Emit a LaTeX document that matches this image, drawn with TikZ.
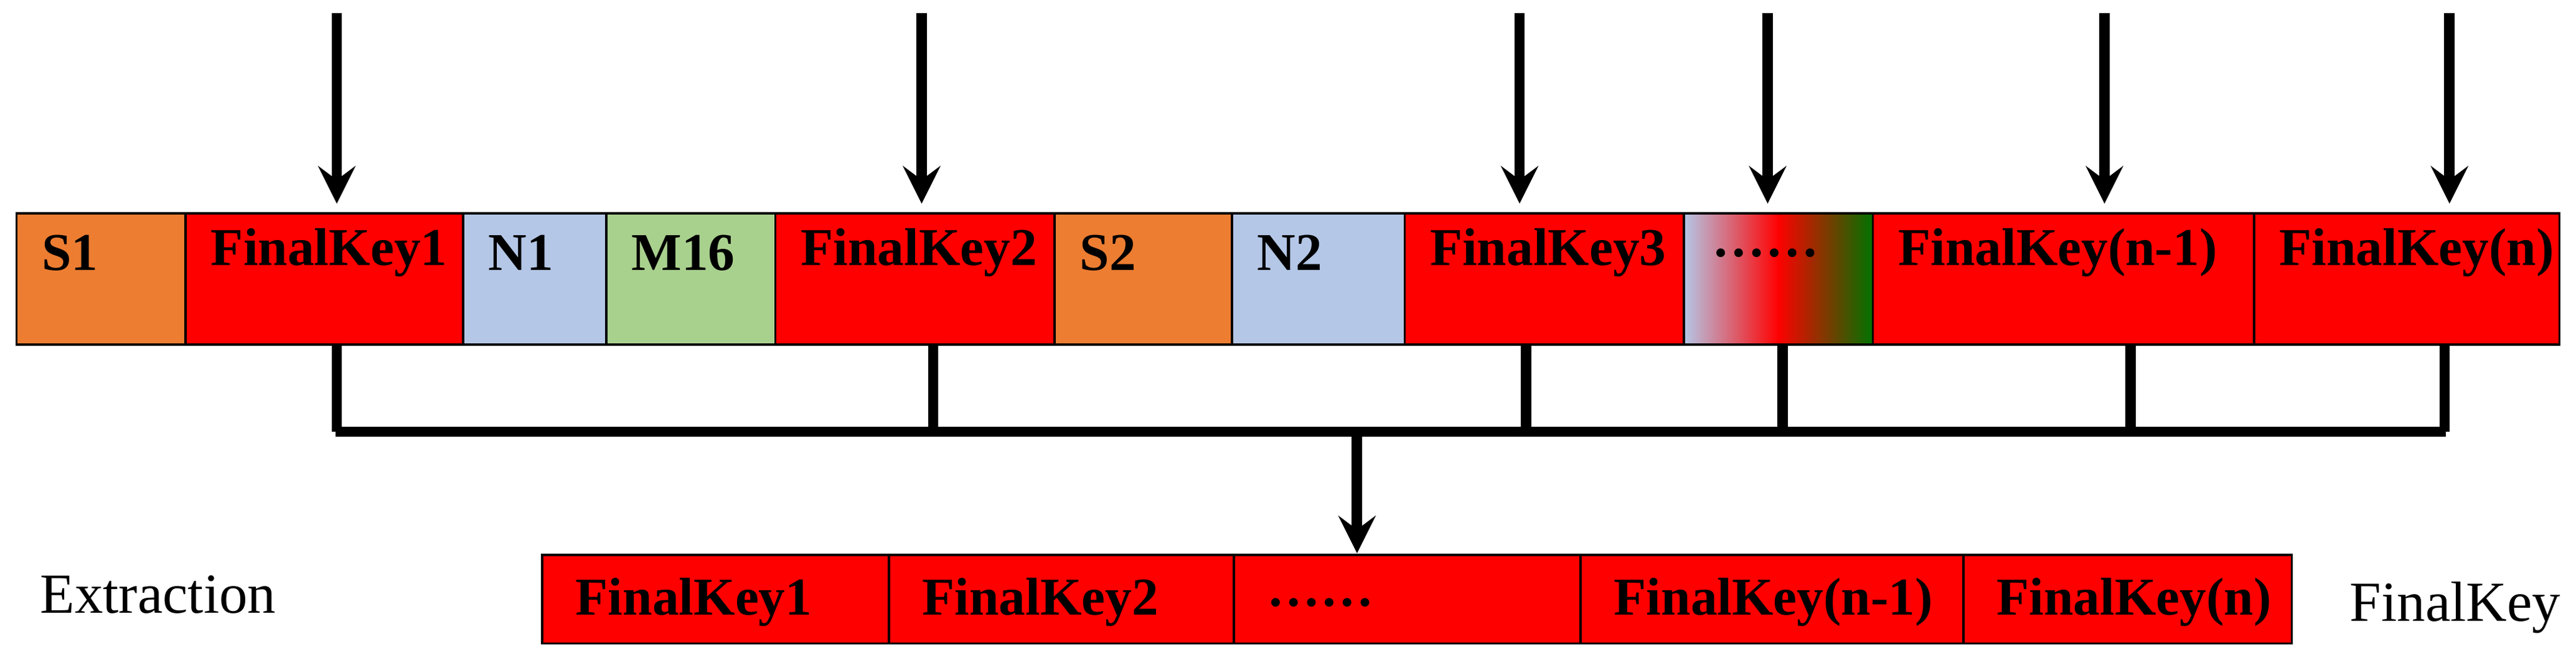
\documentclass[tikz,border=0pt]{standalone}
\usepackage{fontspec}
\setmainfont{Liberation Serif}
\usetikzlibrary{calc}
\tikzset{>=stealth}
\definecolor{korange}{RGB}{237,125,49}
\definecolor{kblue}{RGB}{180,199,231}
\definecolor{kgreen}{RGB}{169,209,142}
\tikzset{
  lab/.style={font=\bfseries\fontsize{9.2}{10}\selectfont,anchor=west},
  bar/.style={line width=1.8pt},
}
\begin{document}
\begin{tikzpicture}[x=0.01cm,y=-0.01cm]
      \useasboundingbox (0,0) rectangle (1568,402);
      % top row
      \foreach \nm/\xa/\xb/\col/\txt in {s1/10/113/korange/S1, fa/113/282/red/FinalKey1, n1/282/369/kblue/N1,
          m16/369/472/kgreen/M16, fb/472/642/red/FinalKey2, s2/642/750/korange/S2, n2/750/855/kblue/N2,
          fc/855/1025/red/FinalKey3, fd/1140/1372/red/FinalKey(n-1), fe/1372/1558/red/FinalKey(n)}
      {
        \draw[fill=\col] (\xa,130) rectangle (\xb,210);
        \node[lab] (\nm) at (\xa+3,154) {\txt};
      }
      % the blended cell
      \shade[left color=kblue,right color=red] (1025,130) rectangle (1083,210);
      \shade[left color=red,right color=green!45!black] (1082,130) rectangle (1140,210);
      \draw (1025,130) rectangle (1140,210);
      \node[lab] (dots) at (1030,154) {\ldots\ldots};
      % arrows in
      \foreach \x in {205,561,925,1076,1281,1491}
        \draw[bar,->] (\x,8) -- (\x,124);
      % collecting lines
      \foreach \x in {205,568,929,1085,1297,1488}
        \draw[bar] (\x,210) -- (\x,263);
      \draw[bar] (204.1,263) -- (1488.9,263);
      \coordinate (join) at (826,263);
      \coordinate (out) at (826,337);
      \draw[bar,->] (join) -- (out);
      % bottom row
      \foreach \nm/\xa/\xb/\txt in {ga/330/541/FinalKey1, gb/541/751/FinalKey2, gc/751/962/\ldots\ldots,
          gd/962/1195/FinalKey(n-1), ge/1195/1395/FinalKey(n)}
      {
        \draw[fill=red] (\xa,338) rectangle (\xb,392);
        \node[lab] (\nm) at (\xa+8,367) {\txt};
      }
      \node[anchor=west,font=\fontsize{9.8}{10}\selectfont] (extr) at (12,362) {Extraction};
      \node[anchor=west,font=\fontsize{9.8}{10}\selectfont] (fkey) at (1418,370) {FinalKey};
\end{tikzpicture}
\end{document}
